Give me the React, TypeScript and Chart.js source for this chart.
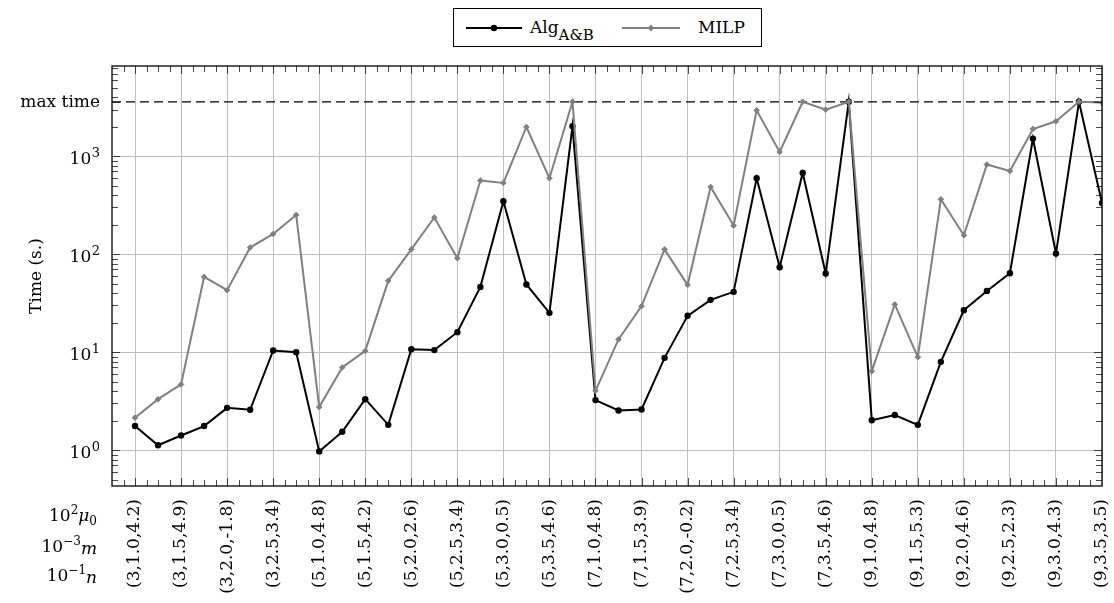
import React, { useEffect, useRef } from "react";
import { Chart, registerables } from "chart.js";

Chart.register(...registerables);

// ---- data ----
const tickLabels = [
  "(3,1.0,4.2)", "(3,1.5,4.9)", "(3,2.0,-1.8)", "(3,2.5,3.4)",
  "(5,1.0,4.8)", "(5,1.5,4.2)", "(5,2.0,2.6)", "(5,2.5,3.4)", "(5,3.0,0.5)", "(5,3.5,4.6)",
  "(7,1.0,4.8)", "(7,1.5,3.9)", "(7,2.0,-0.2)", "(7,2.5,3.4)", "(7,3.0,0.5)", "(7,3.5,4.6)",
  "(9,1.0,4.8)", "(9,1.5,5.3)", "(9,2.0,4.6)", "(9,2.5,2.3)", "(9,3.0,4.3)", "(9,3.5,3.5)",
];

const algAB = [
  1.76, 1.12, 1.41, 1.76, 2.7, 2.58, 10.4, 10.0, 0.97, 1.54,
  3.31, 1.81, 10.7, 10.5, 16.0, 46.4, 347, 49.1, 25.2, 2023,
  3.24, 2.54, 2.6, 8.75, 23.5, 34.2, 41.3, 597, 73.6, 676,
  63.5, 3600, 2.02, 2.28, 1.81, 7.96, 26.8, 42.2, 64.0, 1515,
  101.6, 3600, 334,
];

const milp = [
  2.14, 3.31, 4.68, 58.7, 42.9, 117, 161, 252, 2.75, 6.98,
  10.3, 53.5, 112, 237, 91, 565, 535, 1991, 597, 3600,
  4.03, 13.5, 29.5, 112, 48.6, 486, 196, 2946, 1107, 3600,
  2995, 3600, 6.4, 30.7, 8.89, 364, 156, 823, 708, 1900,
  2275, 3600, 3532,
];

const MAX_TIME = 3600;
const yDecades = [1, 10, 100, 1000];
const yExponents = ["0", "1", "2", "3"];
const Y_MIN = 0.43;
const Y_MAX = 8350;
const X_MIN = -1;
const X_MAX = 42;

const FONT = '"DejaVu Serif", "Liberation Serif", serif';
const GRID = "#bfbfbf";
const GREY = "#808080";

const decorPlugin = {
  id: "decor",
  afterDatasetsDraw(chart: any) {
    const { ctx, chartArea, scales } = chart;
    const { left, right, top, bottom } = chartArea;
    const x = scales.x;
    const y = scales.y;
    ctx.save();
    ctx.strokeStyle = "rgba(0,0,0,0.7)";
    ctx.lineWidth = 1;
    ctx.beginPath();
    for (let t = X_MIN + 0.5; t < X_MAX - 0.01; t += 0.5) {
      const px = Math.round(x.getPixelForValue(t)) + 0.5;
      const major = Math.abs(t / 2 - Math.round(t / 2)) < 1e-6;
      const len = major ? 8 : 6;
      ctx.moveTo(px, bottom);
      ctx.lineTo(px, bottom - len);
      ctx.moveTo(px, top);
      ctx.lineTo(px, top + len);
    }
    for (let e = -1; e <= 4; e++) {
      for (let m = 1; m <= 9; m++) {
        const v = m * Math.pow(10, e);
        if (v <= y.min || v >= y.max) continue;
        const py = Math.round(y.getPixelForValue(v)) + 0.5;
        const len = m === 1 ? 8 : 6;
        ctx.moveTo(left, py);
        ctx.lineTo(left + len, py);
        ctx.moveTo(right, py);
        ctx.lineTo(right - len, py);
      }
    }
    const pm = Math.round(y.getPixelForValue(MAX_TIME)) + 0.5;
    ctx.moveTo(left, pm);
    ctx.lineTo(left + 8, pm);
    ctx.moveTo(right, pm);
    ctx.lineTo(right - 8, pm);
    ctx.stroke();
    ctx.strokeStyle = "#000";
    ctx.lineWidth = 1.3;
    ctx.strokeRect(left, top, right - left, bottom - top);
    ctx.restore();
  },
  afterDraw(chart: any) {
    const { ctx, chartArea, scales } = chart;
    const y = scales.y;
    ctx.save();
    ctx.fillStyle = "#000";
    const rx = 100;
    yDecades.forEach((v, k) => {
      const py = y.getPixelForValue(v);
      ctx.font = `13px ${FONT}`;
      ctx.textAlign = "right";
      ctx.textBaseline = "alphabetic";
      const ew = ctx.measureText(yExponents[k]).width;
      ctx.fillText(yExponents[k], rx, py + 1);
      ctx.font = `17px ${FONT}`;
      ctx.fillText("10", rx - ew - 0.5, py + 8);
    });
    const pm = y.getPixelForValue(MAX_TIME);
    ctx.font = `17px ${FONT}`;
    ctx.textAlign = "right";
    ctx.textBaseline = "alphabetic";
    ctx.fillText("max time", rx, pm + 5.5);
    // axis title
    ctx.translate(37, (chartArea.top + chartArea.bottom) / 2);
    ctx.rotate(-Math.PI / 2);
    ctx.textAlign = "center";
    ctx.textBaseline = "middle";
    ctx.fillText("Time (s.)", 0, 0);
    ctx.restore();
  },
};

export default function App() {
  const canvasRef = useRef<HTMLCanvasElement | null>(null);

  useEffect(() => {
    const canvas = canvasRef.current;
    if (!canvas) return;
    const chart = new Chart(canvas, {
      type: "line",
      data: {
        datasets: [
          {
            label: "MILP",
            data: milp.map((v, i) => ({ x: i, y: v })),
            borderColor: GREY,
            backgroundColor: GREY,
            borderWidth: 2,
            pointStyle: "rectRot",
            pointRadius: 2.8,
            pointBorderWidth: 1,
            order: 0,
          },
          {
            label: "Alg A&B",
            data: algAB.map((v, i) => ({ x: i, y: v })),
            borderColor: "#000",
            backgroundColor: "#000",
            borderWidth: 2,
            pointStyle: "circle",
            pointRadius: 3.2,
            pointBorderWidth: 0,
            order: 1,
          },
          {
            label: "max time",
            data: [
              { x: X_MIN, y: MAX_TIME },
              { x: X_MAX, y: MAX_TIME },
            ],
            borderColor: "#000",
            borderWidth: 1.2,
            borderDash: [9, 5],
            pointRadius: 0,
            order: 2,
          },
        ],
      },
      options: {
        animation: false,
        responsive: false,
        maintainAspectRatio: false,
        layout: { padding: { top: 66, right: 12, left: 0, bottom: 0 } },
        plugins: { legend: { display: false }, tooltip: { enabled: false } },
        scales: {
          x: {
            type: "linear",
            min: X_MIN,
            max: X_MAX,
            afterBuildTicks: (s: any) => {
              s.ticks = tickLabels.map((_, k) => ({ value: 2 * k }));
            },
            afterFit: (s: any) => {
              s.height = 117;
              s.paddingLeft = 0;
              s.paddingRight = 0;
            },
            grid: { color: GRID, lineWidth: 1, drawTicks: false },
            border: { display: false },
            ticks: {
              autoSkip: false,
              minRotation: 90,
              maxRotation: 90,
              padding: 13,
              color: "#000",
              font: { family: FONT, size: 17 },
              callback: (v: any) => tickLabels[Math.round(Number(v) / 2)] ?? "",
            },
          },
          y: {
            type: "logarithmic",
            min: Y_MIN,
            max: Y_MAX,
            afterBuildTicks: (s: any) => {
              s.ticks = [...yDecades, MAX_TIME].map((v) => ({ value: v }));
            },
            afterFit: (s: any) => {
              s.width = 112;
              s.paddingTop = 0;
              s.paddingBottom = 0;
            },
            grid: {
              color: (c: any) => (c.tick && c.tick.value === MAX_TIME ? "rgba(0,0,0,0)" : GRID),
              lineWidth: 1,
              drawTicks: false,
            },
            border: { display: false },
            ticks: { display: false },
          },
        },
      },
      plugins: [decorPlugin],
    } as any);
    return () => chart.destroy();
  }, []);

  const txt: React.CSSProperties = {
    position: "absolute",
    fontFamily: FONT,
    fontSize: 17,
    lineHeight: "20px",
    whiteSpace: "nowrap",
    color: "#000",
  };
  const sup: React.CSSProperties = { fontSize: 12, position: "relative", top: -7 };

  return (
    <div style={{ position: "absolute", left: 0, top: 0, width: 1114, height: 603, background: "#fff" }}>
      <canvas ref={canvasRef} width={1114} height={603} style={{ position: "absolute", left: 0, top: 0, width: 1114, height: 603 }} />
      {/* legend */}
      <div
        style={{
          position: "absolute",
          left: 453,
          top: 8,
          width: 309,
          height: 39,
          boxSizing: "border-box",
          border: "1px solid #000",
          background: "#fff",
        }}
      >
        <svg width={307} height={37} style={{ position: "absolute", left: 0, top: 0 }}>
          <line x1={12} y1={19} x2={68} y2={19} stroke="#000" strokeWidth={2} />
          <circle cx={40} cy={19} r={3.2} fill="#000" />
          <line x1={168} y1={19} x2={226} y2={19} stroke={GREY} strokeWidth={2} />
          <polygon points="197,15.5 200,19 197,22.5 194,19" fill={GREY} />
        </svg>
        <div style={{ ...txt, left: 76, top: 8 }}>
          Alg<span style={{ fontSize: 15, position: "relative", top: 7 }}>A&amp;B</span>
        </div>
        <div style={{ ...txt, left: 244, top: 8 }}>MILP</div>
      </div>
      {/* parameter key */}
      <div style={{ ...txt, right: 1114 - 97, top: 505, textAlign: "right" }}>
        10<span style={sup}>2</span>
        <span style={{ fontStyle: "italic" }}>μ</span>
        <span style={{ fontSize: 12, position: "relative", top: 4 }}>0</span>
      </div>
      <div style={{ ...txt, right: 1114 - 97, top: 536, textAlign: "right" }}>
        10<span style={sup}>−3</span>
        <span style={{ fontStyle: "italic", position: "relative", top: 2 }}>m</span>
      </div>
      <div style={{ ...txt, right: 1114 - 97, top: 565, textAlign: "right" }}>
        10<span style={sup}>−1</span>
        <span style={{ fontStyle: "italic", position: "relative", top: 2 }}>n</span>
      </div>
    </div>
  );
}
